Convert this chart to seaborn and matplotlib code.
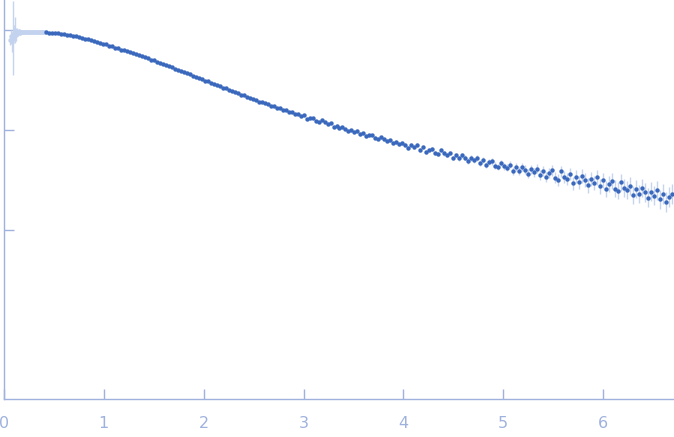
import numpy as np
import seaborn as sns
import matplotlib
matplotlib.use("Agg")
import matplotlib.pyplot as plt

# points flagged as excluded (light) at very low q
q_excl = [0.06, 0.07, 0.08, 0.09, 0.10, 0.11, 0.12, 0.13, 0.14, 0.15,
          0.16, 0.17, 0.18, 0.19, 0.20, 0.21, 0.22, 0.23, 0.24, 0.25,
          0.26, 0.27, 0.28, 0.29, 0.30, 0.31, 0.32, 0.33, 0.34, 0.35,
          0.36, 0.37, 0.38, 0.39, 0.40, 0.41]
logi_excl = [-0.10, -0.06, -0.12, -0.08, -0.03, 0.00, -0.05, -0.02, -0.035, -0.015,
             -0.03, -0.02, -0.025, -0.018, -0.022, -0.02, -0.024, -0.019, -0.022, -0.021,
             -0.023, -0.02, -0.022, -0.021, -0.024, -0.021, -0.022, -0.023, -0.021, -0.022,
             -0.024, -0.022, -0.021, -0.023, -0.022, -0.021]
err_excl = [0.05, 0.06, 0.10, 0.37, 0.08, 0.13, 0.06, 0.04, 0.03, 0.025,
            0.02, 0.02, 0.015, 0.012, 0.01, 0.01, 0.009, 0.008, 0.008, 0.007,
            0.007, 0.007, 0.006, 0.006, 0.006, 0.006, 0.006, 0.005, 0.005, 0.005,
            0.005, 0.005, 0.005, 0.005, 0.005, 0.005]

# main data: q (1/nm), log10 intensity, error in decades
q = [0.42, 0.45, 0.48, 0.51, 0.54, 0.57, 0.60, 0.63, 0.66, 0.69,
     0.72, 0.75, 0.78, 0.81, 0.84, 0.87, 0.90, 0.93, 0.96, 0.99,
     1.02, 1.05, 1.08, 1.11, 1.14, 1.17, 1.20, 1.23, 1.26, 1.29,
     1.32, 1.35, 1.38, 1.41, 1.44, 1.47, 1.50, 1.53, 1.56, 1.59,
     1.62, 1.65, 1.68, 1.71, 1.74, 1.77, 1.80, 1.83, 1.86, 1.89,
     1.92, 1.95, 1.98, 2.01, 2.04, 2.07, 2.10, 2.13, 2.16, 2.19,
     2.22, 2.25, 2.28, 2.31, 2.34, 2.37, 2.40, 2.43, 2.46, 2.49,
     2.52, 2.55, 2.58, 2.61, 2.64, 2.67, 2.70, 2.73, 2.76, 2.79,
     2.82, 2.85, 2.88, 2.91, 2.94, 2.97, 3.00, 3.03, 3.06, 3.09,
     3.12, 3.15, 3.18, 3.21, 3.24, 3.27, 3.30, 3.33, 3.36, 3.39,
     3.42, 3.45, 3.48, 3.51, 3.54, 3.57, 3.60, 3.63, 3.66, 3.69,
     3.72, 3.75, 3.78, 3.81, 3.84, 3.87, 3.90, 3.93, 3.96, 3.99,
     4.02, 4.05, 4.08, 4.11, 4.14, 4.17, 4.20, 4.23, 4.26, 4.29,
     4.32, 4.35, 4.38, 4.41, 4.44, 4.47, 4.50, 4.53, 4.56, 4.59,
     4.62, 4.65, 4.68, 4.71, 4.74, 4.77, 4.80, 4.83, 4.86, 4.89,
     4.92, 4.95, 4.98, 5.01, 5.04, 5.07, 5.10, 5.13, 5.16, 5.19,
     5.22, 5.25, 5.28, 5.31, 5.34, 5.37, 5.40, 5.43, 5.46, 5.49,
     5.52, 5.55, 5.58, 5.61, 5.64, 5.67, 5.70, 5.73, 5.76, 5.79,
     5.82, 5.85, 5.88, 5.91, 5.94, 5.97, 6.00, 6.03, 6.06, 6.09,
     6.12, 6.15, 6.18, 6.21, 6.24, 6.27, 6.30, 6.33, 6.36, 6.39,
     6.42, 6.45, 6.48, 6.51, 6.54, 6.57, 6.60, 6.63, 6.66, 6.69]
logi = [-0.021, -0.026, -0.027, -0.033, -0.035, -0.042, -0.045, -0.052, -0.055, -0.061,
        -0.064, -0.071, -0.077, -0.088, -0.094, -0.105, -0.111, -0.121, -0.128, -0.138,
        -0.145, -0.157, -0.165, -0.176, -0.184, -0.196, -0.203, -0.215, -0.222, -0.234,
        -0.242, -0.254, -0.263, -0.275, -0.283, -0.296, -0.305, -0.318, -0.328, -0.343,
        -0.352, -0.365, -0.375, -0.389, -0.399, -0.413, -0.421, -0.435, -0.443, -0.460,
        -0.468, -0.483, -0.491, -0.506, -0.513, -0.529, -0.537, -0.553, -0.561, -0.577,
        -0.584, -0.601, -0.607, -0.624, -0.630, -0.647, -0.653, -0.671, -0.677, -0.694,
        -0.699, -0.716, -0.719, -0.735, -0.740, -0.757, -0.759, -0.776, -0.779, -0.797,
        -0.799, -0.817, -0.819, -0.837, -0.839, -0.857, -0.853, -0.886, -0.877, -0.877,
        -0.906, -0.919, -0.902, -0.925, -0.940, -0.933, -0.968, -0.956, -0.980, -0.968,
        -0.988, -1.012, -1.000, -1.019, -1.008, -1.043, -1.030, -1.062, -1.053, -1.050,
        -1.079, -1.091, -1.072, -1.095, -1.107, -1.101, -1.134, -1.120, -1.144, -1.131,
        -1.148, -1.179, -1.151, -1.174, -1.151, -1.201, -1.174, -1.220, -1.197, -1.187,
        -1.229, -1.242, -1.203, -1.235, -1.250, -1.232, -1.280, -1.251, -1.283, -1.254,
        -1.278, -1.309, -1.281, -1.304, -1.280, -1.329, -1.303, -1.349, -1.325, -1.315,
        -1.356, -1.369, -1.330, -1.362, -1.378, -1.349, -1.413, -1.369, -1.410, -1.366,
        -1.397, -1.437, -1.393, -1.423, -1.386, -1.452, -1.411, -1.472, -1.433, -1.403,
        -1.478, -1.499, -1.414, -1.469, -1.489, -1.444, -1.534, -1.469, -1.524, -1.459,
        -1.499, -1.554, -1.490, -1.530, -1.475, -1.565, -1.505, -1.592, -1.538, -1.510,
        -1.586, -1.608, -1.525, -1.581, -1.603, -1.559, -1.651, -1.588, -1.644, -1.581,
        -1.622, -1.679, -1.616, -1.657, -1.604, -1.695, -1.637, -1.724, -1.670, -1.642]
err = [0.004, 0.004, 0.004, 0.004, 0.004, 0.004, 0.004, 0.004, 0.004, 0.004,
       0.004, 0.004, 0.004, 0.004, 0.004, 0.004, 0.004, 0.004, 0.004, 0.004,
       0.004, 0.004, 0.004, 0.004, 0.004, 0.004, 0.004, 0.004, 0.004, 0.004,
       0.005, 0.005, 0.005, 0.005, 0.005, 0.005, 0.005, 0.005, 0.005, 0.005,
       0.005, 0.005, 0.005, 0.005, 0.005, 0.005, 0.005, 0.005, 0.005, 0.005,
       0.006, 0.006, 0.006, 0.006, 0.006, 0.006, 0.006, 0.006, 0.006, 0.006,
       0.006, 0.007, 0.006, 0.007, 0.006, 0.007, 0.007, 0.007, 0.007, 0.007,
       0.007, 0.007, 0.007, 0.008, 0.007, 0.008, 0.007, 0.008, 0.008, 0.008,
       0.008, 0.008, 0.008, 0.009, 0.008, 0.009, 0.009, 0.009, 0.009, 0.010,
       0.010, 0.010, 0.011, 0.010, 0.011, 0.011, 0.011, 0.012, 0.011, 0.012,
       0.012, 0.012, 0.013, 0.012, 0.013, 0.013, 0.013, 0.014, 0.013, 0.014,
       0.014, 0.014, 0.015, 0.014, 0.015, 0.015, 0.016, 0.015, 0.016, 0.016,
       0.017, 0.018, 0.017, 0.018, 0.019, 0.018, 0.019, 0.020, 0.019, 0.020,
       0.021, 0.020, 0.022, 0.021, 0.023, 0.022, 0.024, 0.023, 0.025, 0.024,
       0.026, 0.027, 0.026, 0.028, 0.029, 0.028, 0.030, 0.031, 0.030, 0.032,
       0.033, 0.032, 0.034, 0.035, 0.034, 0.036, 0.038, 0.037, 0.039, 0.040,
       0.042, 0.044, 0.043, 0.046, 0.048, 0.047, 0.050, 0.052, 0.051, 0.054,
       0.056, 0.058, 0.057, 0.060, 0.062, 0.061, 0.064, 0.066, 0.065, 0.068,
       0.070, 0.072, 0.071, 0.074, 0.076, 0.075, 0.078, 0.080, 0.079, 0.082,
       0.083, 0.085, 0.084, 0.087, 0.088, 0.087, 0.090, 0.091, 0.090, 0.093,
       0.094, 0.095, 0.094, 0.097, 0.098, 0.097, 0.100, 0.101, 0.100, 0.103]

dark_blue = "#3a68bd"
light_blue = "#c3d2ee"
err_blue = "#c6d4ee"
axis_blue = "#9fb2de"

intensity = 10 ** np.array(logi)
i_excl = 10 ** np.array(logi_excl)
lo = intensity * (1 - 10 ** -np.array(err))
hi = intensity * (10 ** np.array(err) - 1)
lo_x = i_excl * (1 - 10 ** -np.array(err_excl))
hi_x = i_excl * (10 ** np.array(err_excl) - 1)

sns.set_style("white")
fig = plt.figure(figsize=(6.74, 4.37), dpi=100)
ax = fig.add_axes([4 / 674, 38 / 437, 670 / 674, 399 / 437])

ax.errorbar(q_excl, i_excl, yerr=[lo_x, hi_x], fmt="none", ecolor=err_blue, elinewidth=1, zorder=1)
ax.errorbar(q, intensity, yerr=[lo, hi], fmt="none", ecolor=err_blue, elinewidth=1, zorder=1)
sns.scatterplot(x=q_excl, y=i_excl, color=light_blue, s=10, linewidth=0, ax=ax, zorder=2)
sns.scatterplot(x=q, y=intensity, color=dark_blue, s=10, linewidth=0, ax=ax, zorder=3)

ax.set_yscale("log")
ax.set_xlim(0, 6.71)
ax.set_ylim(10 ** -3.69, 10 ** 0.30)
ax.set_yticks([1, 0.1, 0.01])
ax.yaxis.set_minor_locator(matplotlib.ticker.NullLocator())
ax.set_yticklabels([])
ax.set_xticks([0, 1, 2, 3, 4, 5, 6])

sns.despine(ax=ax)
for side in ["left", "bottom"]:
    ax.spines[side].set_color(axis_blue)
    ax.spines[side].set_linewidth(1)
ax.tick_params(axis="both", which="major", direction="in", length=7, width=1,
               color=axis_blue, labelcolor=axis_blue, labelsize=11.5,
               left=True, bottom=True)
ax.tick_params(axis="x", pad=12)
ax.set_xlabel(None)
ax.set_ylabel(None)

fig.savefig("out.png", dpi=100)
